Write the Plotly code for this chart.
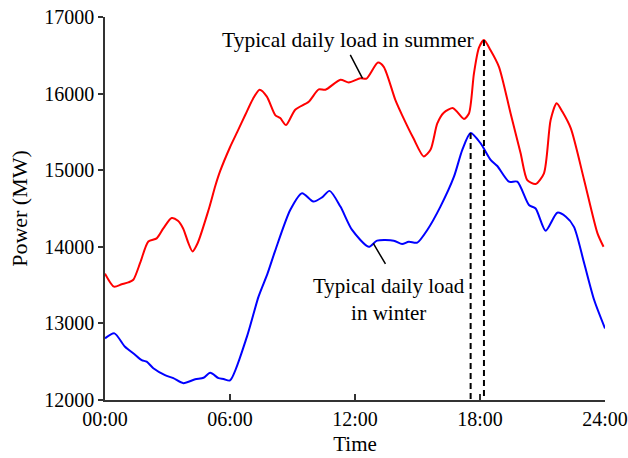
import numpy as np
import plotly.graph_objects as go

# Typical daily load profiles (time in hours, power in MW)
summer_hours = [0.0, 0.43, 0.8, 1.12, 1.36, 1.7, 2.08, 2.48, 2.8, 3.2, 3.5, 3.75, 4.0, 4.2,
                4.45, 4.97, 5.3, 5.53, 6.0, 6.35, 6.73, 7.1, 7.42, 7.77, 8.17, 8.41, 8.69,
                9.13, 9.78, 10.26, 10.58, 11.3, 11.7, 12.26, 12.55, 13.1, 13.38, 13.94,
                14.26, 14.8, 15.3, 15.63, 15.95, 16.26, 16.71, 17.23, 17.47, 17.71, 17.95,
                18.19, 18.5, 18.91, 19.47, 19.95, 20.27, 20.67, 21.07, 21.39, 21.68, 21.95,
                22.36, 23.0, 23.64, 23.93]
summer_load = [13650, 13480, 13510, 13535, 13570, 13800, 14070, 14110, 14240, 14375, 14340,
               14240, 14050, 13940, 14050, 14480, 14800, 14990, 15300, 15500, 15720, 15930,
               16050, 15960, 15720, 15680, 15590, 15790, 15895, 16055, 16050, 16180, 16145,
               16200, 16195, 16405, 16350, 15915, 15720, 15420, 15180, 15270, 15610, 15750,
               15810, 15670, 15740, 16265, 16600, 16700, 16570, 16350, 15740, 15220, 14870,
               14820, 14960, 15655, 15875, 15765, 15545, 14870, 14175, 14000]

winter_hours = [0.0, 0.45, 0.96, 1.4, 1.76, 2.0, 2.32, 2.88, 3.28, 3.76, 4.33, 4.73, 5.05,
                5.45, 5.69, 6.0, 6.81, 7.37, 7.8, 8.17, 8.89, 9.46, 10.0, 10.42, 10.78, 11.3,
                11.86, 12.66, 13.06, 13.86, 14.26, 14.58, 14.99, 15.47, 16.1, 16.75, 17.15,
                17.55, 18.03, 18.51, 18.83, 19.39, 19.79, 20.35, 20.67, 21.15, 21.71, 22.11,
                22.51, 23.0, 23.48, 24.0]
winter_load = [12805, 12870, 12695, 12600, 12520, 12500, 12415, 12325, 12285, 12220, 12270,
               12290, 12355, 12285, 12275, 12255, 12825, 13350, 13650, 13950, 14480, 14700,
               14590, 14645, 14730, 14525, 14220, 14000, 14080, 14080, 14035, 14065, 14055,
               14220, 14525, 14915, 15265, 15485, 15350, 15135, 15055, 14850, 14850, 14545,
               14500, 14210, 14445, 14395, 14260, 13785, 13305, 12935]

tick_hours = [0, 6, 12, 18, 24]
tick_labels = ["00:00", "06:00", "12:00", "18:00", "24:00"]
y_ticks = [12000, 13000, 14000, 15000, 16000, 17000]
y_tick_labels = [str(v) for v in y_ticks]

FONT = "Liberation Serif, Times New Roman, serif"
Y_MIN, Y_MAX = 12000, 17000

fig = go.Figure()
fig.add_trace(go.Scatter(x=summer_hours, y=summer_load, mode="lines",
                         line=dict(color="#ff0000", width=2, shape="spline", smoothing=0.7),
                         showlegend=False))
fig.add_trace(go.Scatter(x=winter_hours, y=winter_load, mode="lines",
                         line=dict(color="#0000ff", width=2, shape="spline", smoothing=0.7),
                         showlegend=False))

# Dashed drop lines from each daily peak down to the time axis
for hrs, load in ((winter_hours, winter_load), (summer_hours, summer_load)):
    i = int(np.argmax(load))
    fig.add_trace(go.Scatter(x=[hrs[i], hrs[i]], y=[load[i], Y_MIN], mode="lines",
                             line=dict(color="black", width=2, dash="6px,4px"),
                             showlegend=False, hoverinfo="skip", cliponaxis=False))

# Leader lines from the labels to the curves
t_sum, t_win = 12.36, 12.88
fig.add_annotation(x=t_sum, y=float(np.interp(t_sum, summer_hours, summer_load)),
                   xref="x", yref="y", text="", showarrow=True, arrowhead=0,
                   arrowwidth=1.5, arrowcolor="black", ax=-13, ay=-25, standoff=0)
fig.add_annotation(x=t_win, y=float(np.interp(t_win, winter_hours, winter_load)),
                   xref="x", yref="y", text="", showarrow=True, arrowhead=0,
                   arrowwidth=1.5, arrowcolor="black", ax=13, ay=22, standoff=0)

fig.add_annotation(x=11.68, y=16700, xref="x", yref="y", showarrow=False,
                   text="Typical daily load in summer",
                   font=dict(family=FONT, size=21.5, color="black"))
fig.add_annotation(x=13.65, y=13318, xref="x", yref="y", showarrow=False,
                   text="Typical daily load<br>in winter",
                   font=dict(family=FONT, size=21, color="black"))

fig.update_xaxes(range=[0, 24], tickmode="array", tickvals=tick_hours, ticktext=tick_labels,
                 showline=True, linecolor="#333333", linewidth=1.5, mirror=False,
                 ticks="inside", ticklen=6, tickwidth=1.5, tickcolor="#333333",
                 showgrid=False, zeroline=False, automargin=False,
                 tickfont=dict(family=FONT, size=20, color="black"),
                 title=dict(text="Time", font=dict(family=FONT, size=21, color="black"),
                            standoff=8))
fig.update_yaxes(range=[Y_MIN, Y_MAX], tickmode="array", tickvals=y_ticks,
                 ticktext=y_tick_labels,
                 showline=True, linecolor="#333333", linewidth=1.5, mirror=False,
                 ticks="outside", ticklen=5, tickwidth=1.5, tickcolor="#333333",
                 showgrid=False, zeroline=False, automargin=False,
                 tickfont=dict(family=FONT, size=20, color="black"),
                 title=dict(text="Power (MW)", font=dict(family=FONT, size=22, color="black"),
                            standoff=11))

fig.update_layout(width=628, height=458, margin=dict(l=105, r=23, t=17, b=58),
                  paper_bgcolor="white", plot_bgcolor="white")

fig.write_html("out.html")
